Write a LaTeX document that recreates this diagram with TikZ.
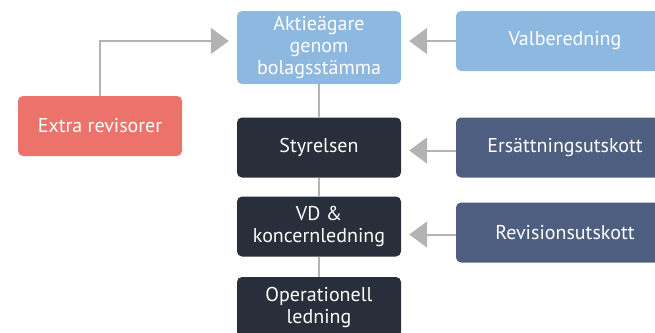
\documentclass[tikz,border=0pt]{standalone}
\usepackage{fontspec}
\setmainfont{PT Sans}
\usetikzlibrary{arrows.meta,positioning}

\definecolor{lightblue}{HTML}{8DB8E0}
\definecolor{darkbox}{HTML}{282E3A}
\definecolor{slatebox}{HTML}{4E5E80}
\definecolor{salmon}{HTML}{EC736B}
\definecolor{linkgray}{HTML}{B3B3B3}

\tikzset{
  box/.style={rectangle, rounded corners=5pt, minimum width=164pt, minimum height=60pt,
    inner sep=0pt, align=center, text=white, font=\fontsize{20}{22}\selectfont},
  sidebox/.style={box, minimum width=218pt},
  link/.style={draw=linkgray, line width=2pt},
  pointer/.style={link, -{Triangle[length=18pt,width=26pt]}, shorten >=8pt}
}

\begin{document}
\begin{tikzpicture}[x=1pt,y=-1pt]

\useasboundingbox (0,0) rectangle (655,332);
\clip (0,0) rectangle (655,332);

% Draw the main chain
\node[box,fill=lightblue,minimum height=73pt] (aktie) at (319,47.5) {Aktieägare\\genom\\bolagsstämma};
\node[box,fill=darkbox] (styrelsen) at (319,147.5) {Styrelsen};
\node[box,fill=darkbox] (vd) at (319,226.5) {VD \&\\koncernledning};
\node[box,fill=darkbox] (oper) at (319,307) {Operationell\\ledning};

% Draw the side boxes
\node[box,fill=salmon] (extra) at (100,126) {Extra revisorer};
\node[sidebox,fill=lightblue] (valb) at (565,41) {Valberedning};
\node[sidebox,fill=slatebox] (ers) at (565,147.5) {Ersättningsutskott};
\node[sidebox,fill=slatebox] (rev) at (565,232.5) {Revisionsutskott};

% Draw the vertical links
\draw[link] (aktie.south) -- (styrelsen.north);
\draw[link] (styrelsen.south) -- (vd.north);
\draw[link] (vd.south) -- (oper.north);

% Draw the arrows
\draw[pointer] (extra.north) |- (aktie.west |- valb.west);
\draw[pointer] (valb.west) -- (aktie.east |- valb.west);
\draw[pointer] ([yshift=-3pt]ers.west) -- ([yshift=-3pt]styrelsen.east |- ers.west);
\draw[pointer] ([yshift=-2pt]rev.west) -- ([yshift=-2pt]vd.east |- rev.west);

\end{tikzpicture}
\end{document}
